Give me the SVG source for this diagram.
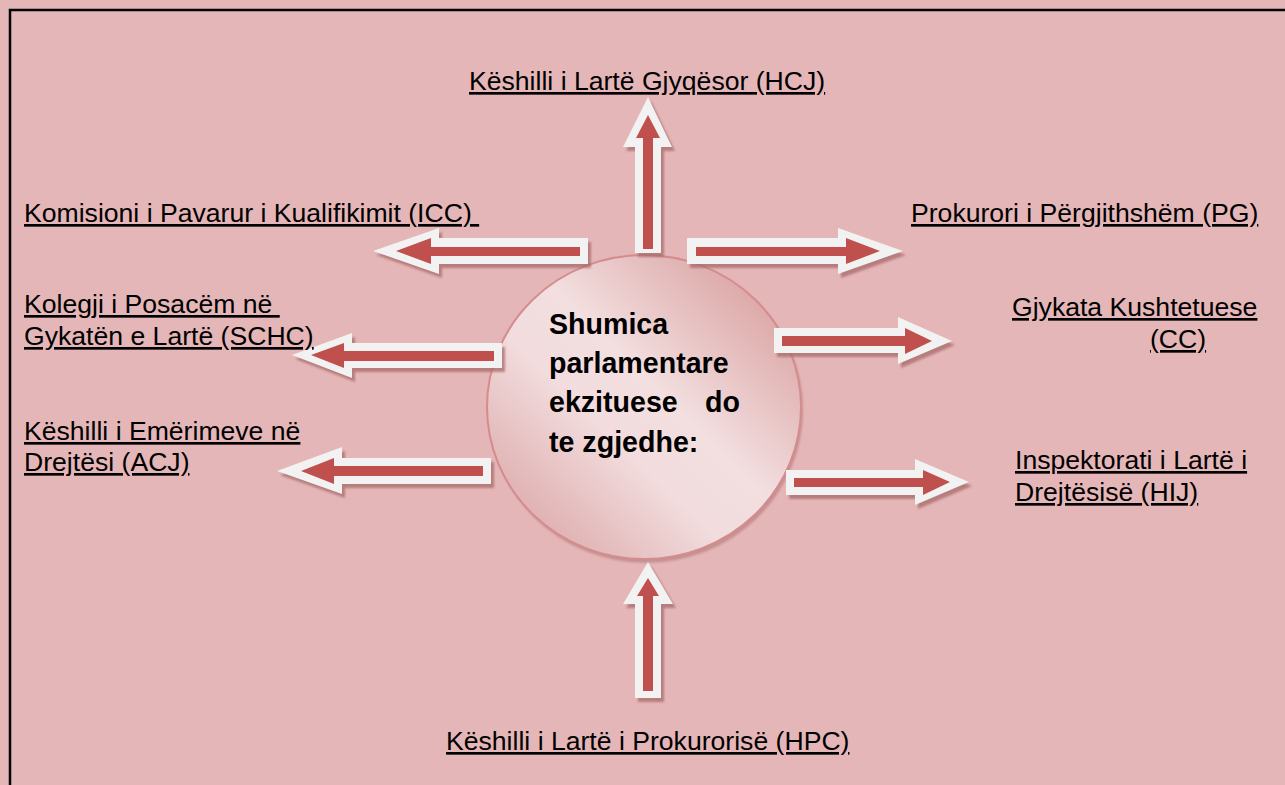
<svg xmlns="http://www.w3.org/2000/svg" width="1285" height="785" viewBox="0 0 1285 785">
<defs>
<linearGradient id="cg" x1="1" y1="0" x2="0" y2="1">
<stop offset="0" stop-color="#d3908f"/>
<stop offset="0.45" stop-color="#f3dfe0"/>
<stop offset="0.6" stop-color="#f2dcdd"/>
<stop offset="1" stop-color="#d69a9b"/>
</linearGradient>
<filter id="blur" x="-10%" y="-10%" width="120%" height="120%"><feGaussianBlur stdDeviation="1.2"/></filter>
<style>
.bg{fill:#e5b6b7}
.frame{fill:none;stroke:#000;stroke-width:2.5}
.aw{fill:#f2f2f2}
.ar{fill:#c0504d}
.sh{fill:#a86a6b;opacity:0.75}
.lbl{font-family:"Liberation Sans",Arial,sans-serif;font-size:26.6px;fill:#000;text-decoration:underline;white-space:pre}
.ctr{font-family:"Liberation Sans",Arial,sans-serif;font-size:28.6px;font-weight:bold;fill:#000;white-space:pre}
</style>
</defs>
<rect class="bg" x="0" y="0" width="1285" height="785"/>
<rect class="frame" x="10" y="10" width="1300" height="800"/>

<g id="center">
<ellipse cx="646" cy="410" rx="157" ry="153" fill="#a86a6b" opacity="0.5" filter="url(#blur)"/>
<ellipse cx="644" cy="407" rx="157" ry="152" fill="url(#cg)" stroke="#d48c8e" stroke-width="2"/>
<text class="ctr" x="549" y="334">Shumica</text>
<text class="ctr" x="549" y="373">parlamentare</text>
<text class="ctr" x="549" y="412">ekzituese<tspan x="705">do</tspan></text>
<text class="ctr" x="549" y="452">te zgjedhe:</text>
</g>

<g id="connectors">
<g id="arrow-hcj">
<polygon class="sh" filter="url(#blur)" transform="translate(3,4)" points="648,97 672,147 661,147 661,253 635,253 635,147 623,147"/>
<polygon class="aw" points="648,97 672,147 661,147 661,253 635,253 635,147 623,147"/>
<polygon class="ar" points="648,115 660,138 653,138 653,249 643,249 643,138 636,138"/>
</g>
<g id="arrow-icc">
<polygon class="sh" filter="url(#blur)" transform="translate(3,4)" points="373,251 439,228 439,238 588,238 588,264 439,264 439,274"/>
<polygon class="aw" points="373,251 439,228 439,238 588,238 588,264 439,264 439,274"/>
<polygon class="ar" points="396,251 431,238 431,247 580,247 580,256 431,256 431,264"/>
</g>
<g id="arrow-pg">
<polygon class="sh" filter="url(#blur)" transform="translate(3,4)" points="903,251 838,228 838,238 687,238 687,264 838,264 838,274"/>
<polygon class="aw" points="903,251 838,228 838,238 687,238 687,264 838,264 838,274"/>
<polygon class="ar" points="880,251 846,238 846,247 696,247 696,256 846,256 846,264"/>
</g>
<g id="arrow-schc">
<polygon class="sh" filter="url(#blur)" transform="translate(3,4)" points="292,355 352,333 352,343 502,343 502,368 352,368 352,378"/>
<polygon class="aw" points="292,355 352,333 352,343 502,343 502,368 352,368 352,378"/>
<polygon class="ar" points="311,355 344,343 344,351 494,351 494,361 344,361 344,368"/>
</g>
<g id="arrow-cc">
<polygon class="sh" filter="url(#blur)" transform="translate(3,4)" points="952,341 898,317 898,328 774,328 774,353 898,353 898,364"/>
<polygon class="aw" points="952,341 898,317 898,328 774,328 774,353 898,353 898,364"/>
<polygon class="ar" points="932,341 905,328 905,336 782,336 782,346 905,346 905,354"/>
</g>
<g id="arrow-acj">
<polygon class="sh" filter="url(#blur)" transform="translate(3,4)" points="277,471 342,447 342,458 491,458 491,484 342,484 342,494"/>
<polygon class="aw" points="277,471 342,447 342,458 491,458 491,484 342,484 342,494"/>
<polygon class="ar" points="301,471 334,458 334,466 483,466 483,476 334,476 334,484"/>
</g>
<g id="arrow-hij">
<polygon class="sh" filter="url(#blur)" transform="translate(3,4)" points="969,482 915,459 915,470 786,470 786,495 915,495 915,505"/>
<polygon class="aw" points="969,482 915,459 915,470 786,470 786,495 915,495 915,505"/>
<polygon class="ar" points="950,482 923,470 923,478 794,478 794,487 923,487 923,495"/>
</g>
<g id="arrow-hpc">
<polygon class="sh" filter="url(#blur)" transform="translate(3,4)" points="648,562 673,604 661,604 661,698 635,698 635,604 623,604"/>
<polygon class="aw" points="648,562 673,604 661,604 661,698 635,698 635,604 623,604"/>
<polygon class="ar" points="648,578 659,596 653,596 653,691 643,691 643,596 637,596"/>
</g>
</g>

<g id="node-hcj"><text class="lbl" x="469" y="90">Këshilli i Lartë Gjyqësor (HCJ)</text></g>
<g id="node-icc"><text class="lbl" x="24" y="222">Komisioni i Pavarur i Kualifikimit (ICC) </text></g>
<g id="node-pg"><text class="lbl" x="911" y="222">Prokurori i Përgjithshëm (PG)</text></g>
<g id="node-schc">
<text class="lbl" x="24" y="313">Kolegji i Posacëm në </text>
<text class="lbl" x="24" y="345">Gykatën e Lartë (SCHC)</text>
</g>
<g id="node-cc">
<text class="lbl" x="1012" y="316">Gjykata Kushtetuese</text>
<text class="lbl" x="1150" y="348">(CC)</text>
</g>
<g id="node-acj">
<text class="lbl" x="24" y="440">Këshilli i Emërimeve në</text>
<text class="lbl" x="24" y="471">Drejtësi (ACJ)</text>
</g>
<g id="node-hij">
<text class="lbl" x="1015" y="469">Inspektorati i Lartë i</text>
<text class="lbl" x="1015" y="501">Drejtësisë (HIJ)</text>
</g>
<g id="node-hpc"><text class="lbl" x="446" y="750">Këshilli i Lartë i Prokurorisë (HPC)</text></g>
</svg>
